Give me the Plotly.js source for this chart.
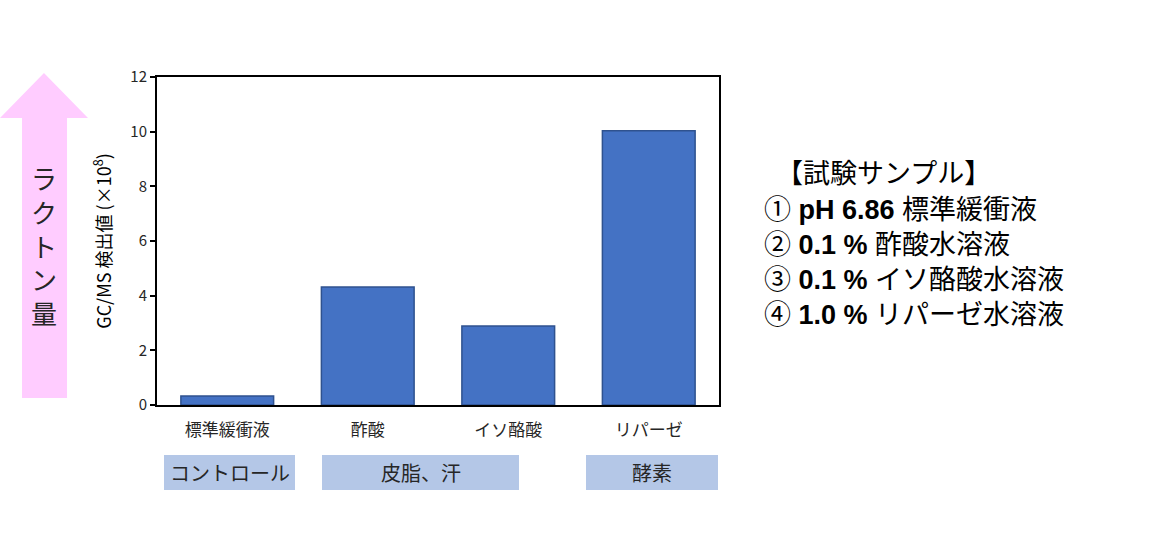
<!DOCTYPE html>
<html>
<head>
<meta charset="utf-8">
<script src="https://cdn.plot.ly/plotly-3.0.1.min.js"></script>
<style>body{margin:0;background:#fff;}</style>
</head>
<body>
<div id="plotarea" style="width:1173px;height:534px;"></div>
<script>
// values (x 10^8)
let categories = ['標準緩衝液', '酢酸', 'イソ酪酸', 'リパーゼ'];
let values = [0.33, 4.32, 2.89, 10.03];
let groupLabels = ['コントロール', '皮脂、汗', '酵素'];
let sampleLines = [
    '【試験サンプル】',
    '① <b>pH 6.86</b> 標準緩衝液',
    '② <b>0.1 %</b> 酢酸水溶液',
    '③ <b>0.1 %</b> イソ酪酸水溶液',
    '④ <b>1.0 %</b> リパーゼ水溶液'
];

const W = 1173, H = 534;
const L = 157, R = 719, T = 77, B = 405;
const jp = '"Noto Sans CJK JP", sans-serif';

// pixel -> paper helpers for the decorations outside the plot
function px(x){ return (x - L) / (R - L); }
function py(y){ return (B - y) / (B - T); }

let shapes = [];
let annotations = [];

// pink arrow on the left
let arrow = [[0,118],[44,73],[88,118],[67,118],[67,398],[22,398],[22,118]];
let path = arrow.map((p, i) => (i === 0 ? 'M' : 'L') + px(p[0]).toFixed(4) + ',' + py(p[1]).toFixed(4)).join(' ') + ' Z';
shapes.push({type: 'path', xref: 'paper', yref: 'paper', path: path,
    fillcolor: '#ffccff', line: {width: 0}, layer: 'below'});
annotations.push({xref: 'paper', yref: 'paper', x: px(44), y: py(245),
    xanchor: 'center', yanchor: 'middle',
    text: 'ラ<br>ク<br>ト<br>ン<br>量', showarrow: false,
    font: {family: jp, size: 26, color: '#262626'}});

// group boxes under the categories
let boxes = [[164,295], [322,519], [586,718]];
for(let i = 0; i < groupLabels.length; i++){
    let b = boxes[i];
    shapes.push({type: 'rect', xref: 'paper', yref: 'paper',
        x0: px(b[0]), x1: px(b[1]), y0: py(490), y1: py(455),
        fillcolor: '#b4c7e7', line: {width: 0}});
    annotations.push({xref: 'paper', yref: 'paper', x: px((b[0] + b[1]) / 2), y: py(472),
        xanchor: 'center', yanchor: 'middle',
        text: groupLabels[i], showarrow: false,
        font: {family: jp, size: 20, color: '#262626'}});
}

// sample list on the right
let lineY = [174, 210, 245, 280, 315];
for(let i = 0; i < sampleLines.length; i++){
    annotations.push({xref: 'paper', yref: 'paper', x: px(i === 0 ? 774 : 762), y: py(lineY[i]),
        xanchor: 'left', yanchor: 'middle', text: sampleLines[i], showarrow: false,
        font: {family: '"Liberation Sans", "Noto Sans CJK JP", sans-serif', size: 27, color: '#000'}});
}

let trace = {
    x: categories,
    y: values,
    type: 'bar',
    width: 0.66,
    marker: {color: '#4472c4', line: {color: '#2f528f', width: 1.5}},
    hoverinfo: 'x+y'
};

let layout = {
    width: W, height: H,
    margin: {l: L, r: W - R, t: T, b: H - B},
    paper_bgcolor: '#fff', plot_bgcolor: '#fff',
    showlegend: false,
    font: {family: jp, color: '#262626'},
    xaxis: {
        showline: true, linecolor: '#000', linewidth: 2, mirror: true,
        ticks: '', showgrid: false,
        tickfont: {family: jp, size: 17, color: '#262626'},
        ticklabelstandoff: 9
    },
    yaxis: {
        range: [0, 12], dtick: 2, showgrid: false, zeroline: false,
        showline: true, linecolor: '#000', linewidth: 2, mirror: true,
        ticks: 'outside', ticklen: 5, tickwidth: 2, tickcolor: '#000',
        tickfont: {family: jp, size: 15, color: '#262626'},
        title: {text: 'GC/MS 検出値 (×10<sup>8</sup>)', standoff: 14,
            font: {family: jp, size: 18, color: '#000'}}
    },
    shapes: shapes,
    annotations: annotations
};

Plotly.newPlot('plotarea', [trace], layout, {displaylogo: false, displayModeBar: false});
</script>
</body>
</html>
